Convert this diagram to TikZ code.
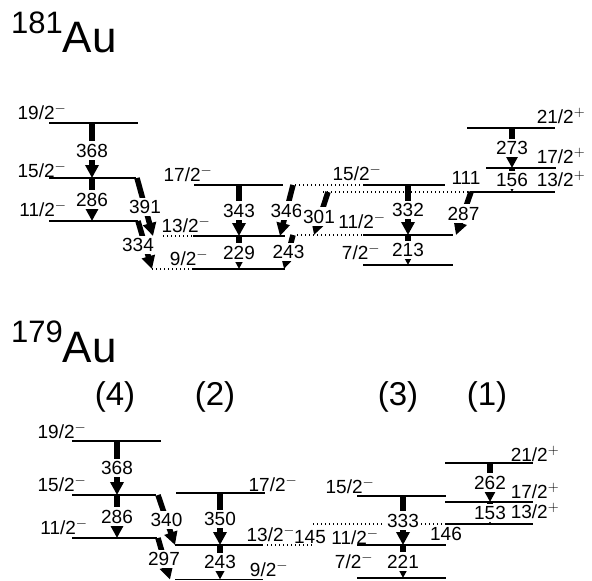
\documentclass[tikz,border=0pt]{standalone}
\usepackage{fontspec}
\setmainfont{Liberation Sans}
\usetikzlibrary{arrows.meta}

\begin{document}
\begin{tikzpicture}[x=1pt, y=-1pt,
    lev/.style={line width=1.6pt},
    levdot/.style={line width=1.4pt, dash pattern=on 1.4pt off 2.6pt},
    gam/.style={line width=5.5pt, -{Triangle[width=13pt,length=13pt]}},
    glab/.style={fill=white, inner sep=2.5pt, font=\fontsize{19}{21}\selectfont},
    spin/.style={inner sep=0pt, font=\fontsize{19}{21}\selectfont},
    band/.style={inner sep=0pt, font=\fontsize{33}{36}\selectfont},
    ttl/.style={inner sep=0pt, anchor=base west, font=\fontsize{44}{48}\selectfont}]
        \useasboundingbox (0,0) rectangle (592,581);

        % ---------- 181Au ----------
        \node[ttl] (ttl181) at (11,52) {\raisebox{19pt}{\fontsize{31}{33}\selectfont 181}Au};

        % levels: band (4), (2), (3), (1)
        \coordinate (u19) at (49,123);
        \coordinate (u15) at (49,178);
        \coordinate (u11) at (49,221);
        \coordinate (u17b) at (194,185);
        \coordinate (u13b) at (193,236);
        \coordinate (u9b) at (193,269);
        \coordinate (u15c) at (363,185);
        \coordinate (u11c) at (363,235);
        \coordinate (u7c) at (363,265);
        \coordinate (u21p) at (467,128);
        \coordinate (u17p) at (486,168);
        \coordinate (u13p) at (470,192);

        % spin labels
        \node[spin] (s19u) at (42,112) {19/2$^{-}$};
        \node[spin] (s15u) at (42,170) {15/2$^{-}$};
        \node[spin] (s11u) at (43,209) {11/2$^{-}$};
        \node[spin] (s17ub) at (188,174) {17/2$^{-}$};
        \node[spin] (s13ub) at (186,225) {13/2$^{-}$};
        \node[spin] (s9ub) at (189,258) {9/2$^{-}$};
        \node[spin] (s15uc) at (357,173) {15/2$^{-}$};
        \node[spin] (s11uc) at (362,221) {11/2$^{-}$};
        \node[spin] (s7uc) at (361,252) {7/2$^{-}$};
        \node[spin] (s21up) at (561,116) {21/2$^{+}$};
        \node[spin] (s17up) at (561,156) {17/2$^{+}$};
        \node[spin] (s13up) at (561,179) {13/2$^{+}$};
        \node[spin] (e111) at (466,178) {111};

        \draw[lev] (u19) -- ++(89,0);
        \draw[lev] (u15) -- ++(87,0);
        \draw[lev] (u11) -- ++(89,0);
        \draw[lev] (u17b) -- ++(89,0);
        \draw[levdot] ([xshift=101pt]u17b) -- (u15c);
        \draw[lev] (u15c) -- ++(82,0);
        \draw[levdot] ([xshift=-30pt]u13b) -- (u13b);
        \draw[lev] (u13b) -- ++(92,0);
        \draw[levdot] ([xshift=-66pt]u11c) -- (u11c);
        \draw[lev] (u11c) -- ++(90,0);
        \draw[levdot] ([xshift=-41pt]u9b) -- (u9b);
        \draw[lev] (u9b) -- ++(92,0);
        \draw[lev] (u7c) -- ++(90,0);
        \draw[lev] (u21p) -- ++(88,0);
        \draw[lev] (u17p) -- ++(70,0);
        \draw[levdot] ([xshift=-147pt]u13p) -- (u13p);
        \draw[lev] (u13p) -- ++(85,0);

        % transitions
        \draw[gam] (92,0 |- u19) -- node[glab]{368} (92,0 |- u15);
        \draw[gam] (92,0 |- u15) -- node[glab]{286} (92,0 |- u11);
        \draw[gam] (137,0 |- u15) -- node[glab]{391} (153,0 |- u13b);
        \draw[gam] (138,0 |- u11) -- node[glab, xshift=-7pt]{334} (152,0 |- u9b);
        \draw[gam] (239,0 |- u17b) -- node[glab]{343} (239,0 |- u13b);
        \draw[gam] (239,0 |- u13b) -- node[glab]{229} (239,0 |- u9b);
        \draw[gam] (293,0 |- u17b) -- node[glab]{346} (280,0 |- u13b);
        \draw[gam] (293,0 |- u11c) -- node[glab]{243} (284,0 |- u9b);
        \draw[gam] (328,0 |- u13p) -- node[glab, yshift=-3pt, xshift=-2pt]{301} (314,0 |- u11c);
        \draw[gam] (408,0 |- u15c) -- node[glab]{332} (408,0 |- u11c);
        \draw[gam] (408,0 |- u11c) -- node[glab]{213} (408,0 |- u7c);
        \draw[gam] (471,0 |- u13p) -- node[glab]{287} (456,0 |- u11c);
        \draw[gam] (512,0 |- u21p) -- node[glab]{273} (512,0 |- u17p);
        \draw[gam] (512,0 |- u17p) -- node[glab]{156} (512,0 |- u13p);

        % ---------- 179Au ----------
        \node[ttl] (ttl179) at (11,362) {\raisebox{20pt}{\fontsize{31}{33}\selectfont 179}Au};
        \node[band] (b4) at (115,397) {(4)};
        \node[band] (b2) at (215,397) {(2)};
        \node[band] (b3) at (398,397) {(3)};
        \node[band] (b1) at (487,397) {(1)};

        \coordinate (v19) at (72,441);
        \coordinate (v15) at (72,495);
        \coordinate (v11) at (72,538);
        \coordinate (v17b) at (176,493);
        \coordinate (v13b) at (175,545);
        \coordinate (v9b) at (175,579.5);
        \coordinate (v15c) at (357,496);
        \coordinate (v11c) at (357,545);
        \coordinate (v7c) at (357,578);
        \coordinate (v21p) at (445,463);
        \coordinate (v17p) at (445,502);
        \coordinate (v13p) at (445,524);

        \node[spin] (s19v) at (62,431) {19/2$^{-}$};
        \node[spin] (s15v) at (62,484) {15/2$^{-}$};
        \node[spin] (s11v) at (64,527) {11/2$^{-}$};
        \node[spin] (s17vb) at (273,484) {17/2$^{-}$};
        \node[spin] (s13vb) at (271,534) {13/2$^{-}$};
        \node[spin] (s9vb) at (269,569) {9/2$^{-}$};
        \node[spin] (s15vc) at (350,486) {15/2$^{-}$};
        \node[spin] (s11vc) at (355,537) {11/2$^{-}$};
        \node[spin] (s7vc) at (354,561) {7/2$^{-}$};
        \node[spin] (s21vp) at (535,454) {21/2$^{+}$};
        \node[spin] (s17vp) at (535,491) {17/2$^{+}$};
        \node[spin] (s13vp) at (535,511) {13/2$^{+}$};
        \node[spin, fill=white, inner sep=1pt] (e145) at (310,537) {145};
        \node[spin] (e146) at (446,534) {146};

        \draw[lev] (v19) -- ++(89,0);
        \draw[lev] (v15) -- ++(84,0);
        \draw[lev] (v11) -- ++(85,0);
        \draw[lev] (v17b) -- ++(89,0);
        \draw[lev] (v13b) -- ++(88,0);
        \draw[levdot] ([xshift=92pt]v13b) -- ++(45,0);
        \draw[lev] (v9b) -- ++(88,0);
        \draw[lev] (v15c) -- ++(89,0);
        \draw[lev] (v11c) -- ++(89,0);
        \draw[lev] (v7c) -- ++(89,0);
        \draw[lev] (v21p) -- ++(88,0);
        \draw[lev] (v17p) -- ++(88,0);
        \draw[levdot] ([xshift=-132pt]v13p) -- (v13p);
        \draw[lev] (v13p) -- ++(88,0);

        \draw[gam] (117,0 |- v19) -- node[glab]{368} (117,0 |- v15);
        \draw[gam] (117,0 |- v15) -- node[glab]{286} (117,0 |- v11);
        \draw[gam] (158,0 |- v15) -- node[glab]{340} (175,0 |- v13b);
        \draw[gam] (158,0 |- v11) -- node[glab]{297} (170,0 |- v9b);
        \draw[gam] (220,0 |- v17b) -- node[glab]{350} (220,0 |- v13b);
        \draw[gam] (220,0 |- v13b) -- node[glab]{243} (220,0 |- v9b);
        \draw[gam] (403,0 |- v15c) -- node[glab]{333} (403,0 |- v11c);
        \draw[gam] (403,0 |- v11c) -- node[glab]{221} (403,0 |- v7c);
        \draw[gam] (490,0 |- v21p) -- node[glab]{262} (490,0 |- v17p);
        \draw[gam] (490,0 |- v17p) -- node[glab]{153} (490,0 |- v13p);
    \end{tikzpicture}
\end{document}
